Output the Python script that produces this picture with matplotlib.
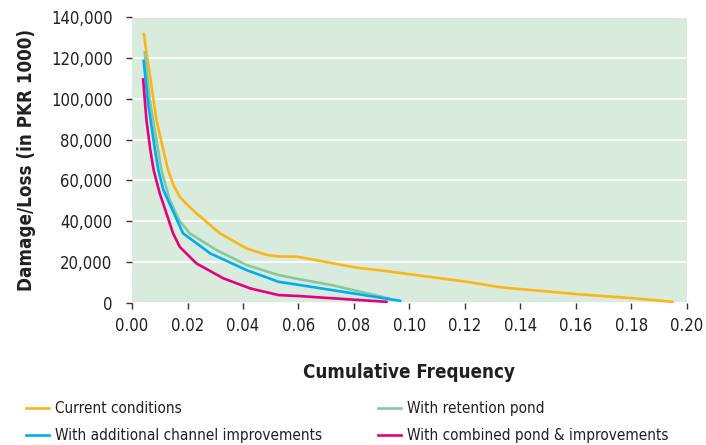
import matplotlib
matplotlib.use('Agg')
import matplotlib.pyplot as plt
from matplotlib.ticker import FuncFormatter

plt.rcParams['font.family'] = ['Liberation Sans Narrow', 'DejaVu Sans']
plt.rcParams['font.stretch'] = 'condensed'

# curvas de daño vs frecuencia acumulada
x_actual = [0.0043, 0.0053, 0.0064, 0.0088, 0.0113, 0.013, 0.015, 0.0172, 0.0197, 0.0232,
            0.0317, 0.0413, 0.0486, 0.0528, 0.0595, 0.081, 0.0894, 0.1207, 0.1327,
            0.160, 0.181, 0.1947]
y_actual = [131600, 121500, 112000, 89500, 74800, 65000, 57500, 52000, 48400, 43900,
            34100, 26700, 23500, 22800, 22700, 17300, 16000, 10400, 7700,
            4400, 2300, 600]

x_estanque = [0.0046, 0.0064, 0.0094, 0.0106, 0.0136, 0.017, 0.0208, 0.0305,
              0.0413, 0.0528, 0.0605, 0.0726, 0.0924]
y_estanque = [122600, 99300, 74800, 65000, 50400, 40500, 34100, 25900,
              18600, 13700, 11600, 8600, 2300]

x_canal = [0.0042, 0.0058, 0.0083, 0.0095, 0.0113, 0.0184, 0.0282, 0.0413,
           0.0528, 0.0605, 0.0798, 0.0966]
y_canal = [118500, 97600, 74800, 65000, 55300, 34100, 24300, 16100,
           10400, 8800, 4700, 1100]

x_combinado = [0.004, 0.0052, 0.0066, 0.0078, 0.01, 0.0124, 0.0148, 0.0172, 0.0232,
               0.0329, 0.0425, 0.0528, 0.0605, 0.0726, 0.0917]
y_combinado = [109400, 89500, 74800, 65000, 53600, 43900, 34100, 27500, 19400,
               12100, 7200, 3900, 3400, 2300, 600]

etiquetas = ['Current conditions', 'With additional channel improvements',
             'With retention pond', 'With combined pond & improvements']
colores = ['#fbb616', '#00aeef', '#86c99c', '#e5007d']

fig = plt.figure(figsize=(7.06, 4.45), dpi=100)
ax = fig.add_axes([0.187, 0.319, 0.786, 0.643])
ax.set_facecolor('#d8ebdc')

l1, = ax.plot(x_actual, y_actual, color=colores[0], lw=1.9, solid_joinstyle='round')
l3, = ax.plot(x_estanque, y_estanque, color=colores[2], lw=1.9, solid_joinstyle='round')
l2, = ax.plot(x_canal, y_canal, color=colores[1], lw=1.9, solid_joinstyle='round')
l4, = ax.plot(x_combinado, y_combinado, color=colores[3], lw=1.9, solid_joinstyle='round')

ax.set_xlim(0, 0.2)
ax.set_ylim(0, 140000)
ax.set_xticks([i / 100 for i in range(0, 21, 2)])
ax.set_yticks(range(0, 140001, 20000))
ax.yaxis.set_major_formatter(FuncFormatter(lambda v, p: f'{int(v):,}'))
ax.xaxis.set_major_formatter(FuncFormatter(lambda v, p: f'{v:.2f}'))
ax.grid(axis='y', color='white', lw=1.2)
ax.set_axisbelow(True)
for s in ax.spines.values():
    s.set_visible(False)
ax.tick_params(axis='both', colors='#333333', labelcolor='#231f20', labelsize=12,
               length=4, width=1)
ax.tick_params(axis='y', pad=10)
ax.tick_params(axis='x', pad=6)

ax.set_ylabel('Damage/Loss (in PKR 1000)', fontsize=13.5, fontweight='bold',
              color='#231f20', labelpad=11)
ax.set_xlabel('Cumulative Frequency', fontsize=13.5, fontweight='bold',
              color='#231f20', labelpad=20)

fig.legend([l1, l2, l3, l4], etiquetas, ncol=2, loc='upper left',
           bbox_to_anchor=(0.017, 0.13), frameon=False, fontsize=11,
           handlelength=1.5, handletextpad=0.4, columnspacing=3.7,
           labelspacing=0.8, labelcolor='#231f20')

plt.savefig('out.png', dpi=100)
